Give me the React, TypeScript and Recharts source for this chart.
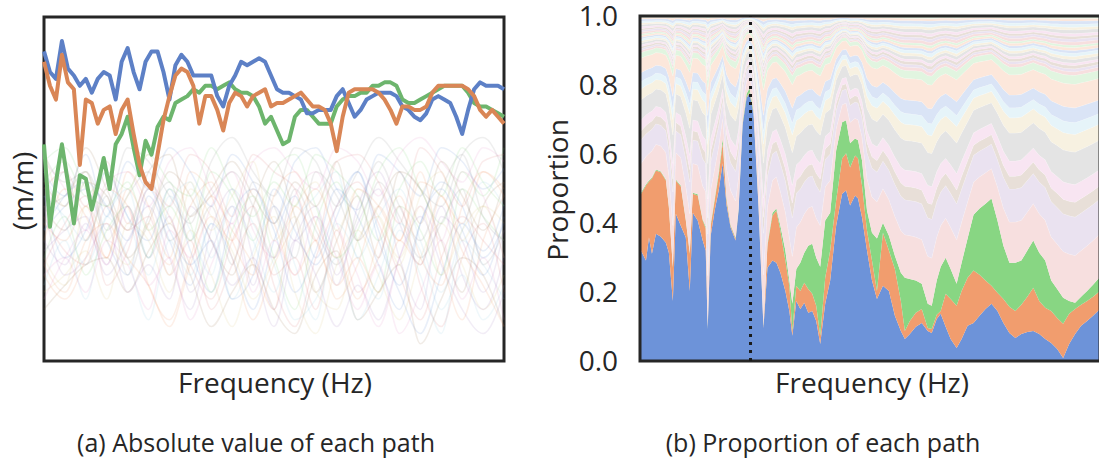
import {
  LineChart,
  Line,
  AreaChart,
  Area,
  XAxis,
  YAxis,
  ReferenceArea,
  ReferenceLine,
} from "recharts";

const FONT = '"Open Sans", "Noto Sans", sans-serif';
const INK = "#262626";

// ---- (a) absolute value of each path ----
// frequency bins (arbitrary units, no tick labels in the figure)
const binsA = Array.from({ length: 78 }, (_, i) => i * 6);
const binsFaint = Array.from({ length: 23 }, (_, i) => i * 21);

const blueA = [90, 84, 82, 93, 85, 83, 80, 82, 78, 82, 84, 83, 76, 87, 91, 84, 79, 87, 90, 90, 84, 76, 86, 89, 87, 83, 83, 83, 83, 77, 74, 80, 83, 87, 86, 87, 88, 87, 83, 79, 78, 78, 77, 76, 72, 72, 73, 73, 73, 77, 79, 75, 71, 73, 76, 77, 78, 78, 78, 77, 74, 73, 71, 70, 72, 76, 77, 76, 75, 71, 66, 73, 79, 81, 80, 80, 80, 79];
const orangeA = [87, 80, 76, 89, 81, 79, 57, 76, 75, 69, 73, 74, 66, 73, 76, 66, 57, 52, 50, 60, 70, 77, 83, 85, 84, 80, 69, 77, 77, 73, 67, 75, 78, 77, 74, 77, 78, 79, 74, 75, 75, 76, 77, 78, 76, 74, 74, 73, 69, 61, 71, 78, 79, 79, 79, 79, 78, 76, 73, 69, 74, 74, 73, 73, 74, 78, 80, 80, 80, 80, 80, 79, 77, 73, 71, 73, 71, 69];
const greenA = [63, 39, 52, 63, 52, 40, 54, 53, 44, 51, 59, 50, 63, 66, 71, 62, 54, 64, 60, 68, 71, 70, 75, 76, 77, 79, 78, 80, 80, 79, 80, 81, 79, 78, 78, 77, 74, 69, 71, 67, 63, 64, 71, 73, 73, 71, 69, 69, 69, 74, 76, 77, 77, 78, 78, 80, 80, 81, 81, 80, 76, 75, 75, 76, 77, 78, 79, 80, 80, 80, 80, 78, 75, 74, 74, 73, 72, 71];

// the remaining paths, drawn faintly
const faintPaths = [
  [55, 48, 60, 42, 58, 50, 62, 55, 45, 60, 52, 40, 58, 62, 50, 44, 60, 55, 48, 62, 58, 50, 56],
  [40, 35, 45, 30, 50, 38, 28, 45, 52, 35, 25, 48, 55, 40, 30, 50, 45, 35, 52, 48, 40, 55, 50],
  [30, 42, 25, 38, 45, 30, 50, 40, 20, 38, 48, 30, 15, 40, 52, 35, 20, 45, 38, 25, 50, 42, 35],
  [50, 55, 45, 58, 40, 52, 45, 60, 55, 42, 60, 55, 50, 35, 58, 60, 52, 40, 62, 55, 45, 58, 60],
  [35, 28, 40, 25, 35, 45, 30, 15, 38, 50, 30, 10, 35, 45, 25, 40, 50, 30, 15, 42, 35, 20, 38],
  [45, 38, 52, 48, 30, 40, 55, 48, 35, 25, 45, 58, 42, 20, 35, 48, 30, 55, 50, 35, 20, 45, 52],
  [25, 30, 20, 35, 28, 15, 38, 30, 45, 55, 38, 30, 48, 55, 40, 25, 10, 30, 45, 35, 55, 48, 30],
  [60, 52, 55, 45, 62, 58, 48, 40, 58, 65, 55, 48, 62, 58, 45, 55, 65, 58, 50, 45, 60, 65, 55],
  [20, 25, 32, 18, 40, 35, 20, 38, 25, 10, 30, 42, 20, 8, 28, 38, 25, 12, 30, 40, 28, 15, 25],
  [48, 42, 35, 50, 42, 25, 45, 52, 30, 45, 35, 20, 40, 48, 55, 30, 42, 50, 35, 20, 38, 52, 45],
  [38, 45, 50, 35, 25, 48, 35, 22, 40, 30, 15, 35, 48, 30, 45, 55, 38, 22, 40, 52, 45, 30, 40],
  [28, 20, 35, 40, 30, 22, 10, 28, 42, 35, 50, 40, 25, 35, 18, 28, 45, 35, 55, 30, 12, 35, 48],
  [52, 58, 48, 55, 50, 60, 52, 48, 62, 50, 42, 52, 45, 60, 55, 48, 35, 50, 58, 48, 62, 52, 45],
  [42, 32, 28, 45, 38, 42, 25, 35, 15, 28, 40, 25, 30, 15, 38, 20, 30, 45, 22, 10, 30, 40, 20],
  [32, 38, 42, 28, 45, 30, 42, 20, 32, 45, 22, 45, 35, 42, 22, 45, 55, 40, 28, 45, 25, 15, 30],
  [15, 22, 28, 30, 20, 32, 40, 25, 10, 20, 28, 15, 8, 25, 32, 12, 20, 28, 5, 18, 30, 25, 10],
  [58, 50, 38, 52, 55, 45, 58, 62, 50, 40, 58, 62, 55, 50, 62, 58, 48, 60, 65, 58, 52, 62, 58],
  [45, 48, 55, 38, 48, 55, 35, 42, 48, 55, 45, 30, 50, 38, 28, 42, 58, 45, 35, 50, 60, 42, 35],
  [62, 45, 55, 35, 48, 60, 40, 52, 38, 48, 58, 35, 45, 52, 38, 50, 42, 30, 48, 55, 35, 45, 40],
  [22, 35, 18, 42, 30, 12, 35, 25, 40, 18, 32, 45, 28, 12, 40, 30, 18, 38, 25, 8, 35, 28, 18],
  [48, 30, 38, 55, 42, 35, 50, 32, 20, 42, 50, 38, 20, 32, 50, 42, 28, 15, 40, 50, 38, 25, 42],
  [35, 50, 42, 30, 55, 45, 30, 55, 48, 30, 12, 28, 40, 50, 35, 18, 35, 48, 30, 22, 45, 55, 48],
  [58, 62, 50, 45, 52, 38, 45, 35, 55, 48, 35, 55, 60, 45, 30, 38, 55, 62, 50, 40, 55, 48, 62],
  [28, 40, 48, 22, 32, 50, 42, 28, 18, 35, 45, 22, 10, 30, 45, 52, 40, 25, 12, 30, 42, 35, 28],
  [45, 25, 30, 40, 20, 28, 18, 45, 35, 22, 30, 15, 35, 25, 10, 22, 12, 30, 42, 28, 15, 8, 20],
  [52, 45, 62, 50, 38, 55, 60, 42, 50, 58, 48, 40, 52, 45, 58, 35, 45, 55, 40, 58, 48, 38, 52],
  [18, 30, 38, 28, 45, 22, 30, 12, 28, 40, 20, 35, 25, 42, 30, 15, 28, 8, 20, 35, 18, 30, 12],
  [40, 55, 35, 48, 25, 42, 52, 35, 45, 28, 52, 45, 30, 55, 48, 35, 52, 42, 30, 40, 50, 28, 38],
  [30, 22, 45, 35, 28, 40, 25, 50, 42, 32, 18, 30, 42, 20, 15, 35, 42, 28, 45, 25, 38, 45, 30],
  [55, 40, 28, 42, 50, 30, 48, 38, 25, 50, 40, 28, 12, 18, 30, 12, 25, 40, 32, 15, 25, 12, 22],
  [38, 48, 52, 45, 35, 50, 38, 28, 35, 18, 25, 50, 38, 28, 42, 55, 35, 20, 8, 25, 40, 32, 45],
  [25, 18, 30, 50, 45, 22, 12, 30, 48, 38, 28, 15, 45, 35, 22, 30, 20, 35, 28, 48, 32, 22, 10],
];

const muted = ["#4878D0", "#EE854A", "#6ACC64", "#D65F5F", "#956CB4", "#8C613C", "#DC7EC0", "#797979", "#D5BB67", "#82C6E2"];

// ---- (b) proportion of each path ----
const binsB = [0, 6, 9, 12, 16, 21, 26, 29, 33, 36, 41, 46, 50, 53, 58, 63, 66, 68, 71, 75, 79, 83, 87, 91, 96, 99, 103, 107, 110, 114, 119, 124, 128, 133, 137, 141, 146, 150, 153, 157, 161, 165, 169, 173, 177, 181, 186, 191, 197, 203, 207, 211, 216, 219, 223, 228, 233, 238, 244, 250, 256, 262, 266, 271, 277, 283, 289, 293, 298, 302, 307, 312, 318, 323, 329, 335, 341, 347, 353, 359, 365, 371, 377, 383, 389, 395, 401, 407, 413, 419, 425, 431, 437, 443, 449, 455, 462];
const blueB = [0.326, 0.291, 0.358, 0.311, 0.369, 0.36, 0.343, 0.314, 0.174, 0.427, 0.392, 0.358, 0.203, 0.43, 0.407, 0.349, 0.32, 0.093, 0.363, 0.436, 0.494, 0.573, 0.451, 0.387, 0.349, 0.436, 0.683, 0.762, 0.776, 0.718, 0.451, 0.096, 0.27, 0.291, 0.285, 0.256, 0.203, 0.145, 0.073, 0.174, 0.151, 0.169, 0.14, 0.145, 0.116, 0.049, 0.166, 0.233, 0.392, 0.485, 0.494, 0.451, 0.48, 0.471, 0.416, 0.32, 0.233, 0.18, 0.218, 0.203, 0.131, 0.087, 0.064, 0.078, 0.099, 0.11, 0.087, 0.081, 0.122, 0.137, 0.099, 0.064, 0.038, 0.064, 0.102, 0.11, 0.131, 0.151, 0.166, 0.145, 0.11, 0.081, 0.067, 0.078, 0.084, 0.087, 0.078, 0.064, 0.052, 0.035, 0.009, 0.049, 0.078, 0.102, 0.116, 0.131, 0.151];
const orangeB = [0.154, 0.218, 0.162, 0.218, 0.183, 0.187, 0.18, 0.131, 0.096, 0.096, 0.114, 0.049, 0.108, 0.055, 0.073, 0.058, 0.064, 0.003, 0.029, 0.029, 0.044, 0.058, 0.014, 0.005, 0.006, 0.003, 0.003, 0.003, 0.003, 0.003, 0.003, 0.003, 0.064, 0.131, 0.151, 0.122, 0.088, 0.073, 0.014, 0.044, 0.052, 0.058, 0.069, 0.05, 0.044, 0.024, 0.075, 0.087, 0.073, 0.102, 0.108, 0.11, 0.116, 0.116, 0.093, 0.058, 0.058, 0.023, 0.154, 0.117, 0.136, 0.087, 0.023, 0.038, 0.041, 0.041, 0.009, 0.012, 0.012, 0.008, 0.096, 0.116, 0.122, 0.139, 0.139, 0.152, 0.119, 0.082, 0.052, 0.053, 0.07, 0.076, 0.078, 0.085, 0.102, 0.125, 0.096, 0.09, 0.093, 0.09, 0.099, 0.088, 0.073, 0.061, 0.058, 0.055, 0.052];
const greenB = [0.003, 0.003, 0.003, 0.003, 0.003, 0.002, 0.003, 0.003, 0.003, 0.003, 0.003, 0.003, 0.003, 0.003, 0.003, 0.003, 0.006, 0.003, 0.006, 0.006, 0.009, 0.014, 0.006, 0.003, 0.003, 0.003, 0.006, 0.009, 0.012, 0.006, 0.003, 0.003, 0.006, 0.008, 0.006, 0.014, 0.029, 0.015, 0.079, 0.049, 0.082, 0.087, 0.125, 0.145, 0.139, 0.2, 0.166, 0.11, 0.145, 0.105, 0.096, 0.07, 0.049, 0.053, 0.072, 0.058, 0.081, 0.152, 0.029, 0.043, 0.038, 0.082, 0.154, 0.122, 0.093, 0.073, 0.07, 0.067, 0.099, 0.128, 0.104, 0.087, 0.064, 0.082, 0.114, 0.162, 0.192, 0.223, 0.253, 0.209, 0.154, 0.128, 0.14, 0.128, 0.134, 0.137, 0.14, 0.137, 0.088, 0.084, 0.075, 0.037, 0.018, 0.023, 0.029, 0.035, 0.041];

// share of the remaining proportion taken by each of the other paths
const restShares = [0.16, 0.13, 0.05, 0.06, 0.11, 0.06, 0.04, 0.05, 0.08, 0.03, 0.012, 0.01, 0.011, 0.009, 0.012, 0.01, 0.011, 0.009, 0.01, 0.008, 0.011, 0.01, 0.009, 0.01, 0.012, 0.009, 0.01, 0.011, 0.009, 0.008];
const pastel = ["#F7DFDF", "#EAE2F0", "#E8DFD8", "#F8E5F2", "#E4E4E4", "#F7F1E1", "#E6F4F9", "#DAE4F6", "#FCE7DB", "#E1F5E0"];
const yTicksB = [0, 0.2, 0.4, 0.6, 0.8, 1.0];
const markerBin = 111;

const rowsA = binsA.map((f, i) => ({ f, blue: blueA[i], orange: orangeA[i], green: greenA[i] }));
const faintRows = faintPaths.map((vals) => binsFaint.map((f, i) => ({ f, v: vals[i] })));

const shareSum = restShares.reduce((a, b) => a + b, 0);
const rowsB = binsB.map((f, i) => {
  const rest = 1 - blueB[i] - orangeB[i] - greenB[i];
  const row: Record<string, number> = { f, blue: blueB[i], orange: orangeB[i], green: greenB[i] };
  restShares.forEach((w, k) => {
    row[`p${k}`] = (rest * w) / shareSum;
  });
  return row;
});

function AbsolutePanel() {
  return (
    <LineChart width={530} height={400} data={rowsA} margin={{ top: 17, right: 26, bottom: 39, left: 44 }}>
      <XAxis type="number" dataKey="f" domain={[0, 462]} hide />
      <YAxis type="number" domain={[0, 100]} allowDataOverflow hide />
      {faintRows.map((rows, k) => (
        <Line
          key={k}
          data={rows}
          dataKey="v"
          type="monotone"
          stroke={muted[k % muted.length]}
          strokeOpacity={0.12}
          strokeWidth={1.5}
          dot={false}
          activeDot={false}
          isAnimationActive={false}
        />
      ))}
      <Line dataKey="green" type="linear" stroke="#6db56d" strokeWidth={4} strokeLinejoin="round" dot={false} activeDot={false} isAnimationActive={false} />
      <Line dataKey="blue" type="linear" stroke="#5d80c6" strokeWidth={4} strokeLinejoin="round" dot={false} activeDot={false} isAnimationActive={false} />
      <Line dataKey="orange" type="linear" stroke="#d98656" strokeWidth={4} strokeLinejoin="round" dot={false} activeDot={false} isAnimationActive={false} />
      <ReferenceArea x1={0} x2={462} y1={0} y2={100} fill="none" stroke={INK} strokeWidth={3} />
    </LineChart>
  );
}

function ProportionPanel() {
  return (
    <AreaChart width={600} height={420} data={rowsB} margin={{ top: 36, right: 40, bottom: 39, left: 40 }}>
      <XAxis type="number" dataKey="f" domain={[0, 462]} hide />
      <YAxis
        type="number"
        domain={[0, 1]}
        allowDataOverflow
        ticks={yTicksB}
        tickFormatter={(v: number) => v.toFixed(1)}
        width={60}
        axisLine={false}
        tickLine={false}
        tickMargin={16}
        tick={{ fontSize: 28, fill: INK, fontFamily: FONT }}
      />
      <Area dataKey="blue" stackId="s" type="linear" fill="#6D93D9" fillOpacity={1} stroke="none" isAnimationActive={false} />
      <Area dataKey="orange" stackId="s" type="linear" fill="#F19D6E" fillOpacity={1} stroke="none" isAnimationActive={false} />
      <Area dataKey="green" stackId="s" type="linear" fill="#88D683" fillOpacity={1} stroke="none" isAnimationActive={false} />
      {restShares.map((_, k) => (
        <Area
          key={k}
          dataKey={`p${k}`}
          stackId="s"
          type="linear"
          fill={pastel[k % pastel.length]}
          fillOpacity={1}
          stroke="#ffffff"
          strokeOpacity={0.5}
          strokeWidth={0.6}
          isAnimationActive={false}
        />
      ))}
      <ReferenceLine x={markerBin} stroke="#1a1a1a" strokeWidth={3} strokeDasharray="3 5" />
      <ReferenceArea x1={0} x2={462} y1={0} y2={1} fill="none" stroke={INK} strokeWidth={3} />
    </AreaChart>
  );
}

function Text({ x, y, size, children }: { x: number; y: number; size: number; children: string }) {
  return (
    <div
      style={{
        position: "absolute",
        left: x,
        top: y,
        transform: "translateX(-50%)",
        fontSize: size,
        lineHeight: `${size}px`,
        whiteSpace: "nowrap",
      }}
    >
      {children}
    </div>
  );
}

function VText({ x, y, size, children }: { x: number; y: number; size: number; children: string }) {
  return (
    <div
      style={{
        position: "absolute",
        left: x,
        top: y,
        transform: "translate(-50%, -50%) rotate(-90deg)",
        fontSize: size,
        lineHeight: `${size}px`,
        whiteSpace: "nowrap",
      }}
    >
      {children}
    </div>
  );
}

export default function App() {
  return (
    <div
      style={{
        position: "absolute",
        left: 0,
        top: 0,
        width: 1099,
        height: 460,
        overflow: "hidden",
        background: "#fff",
        fontFamily: FONT,
        color: INK,
      }}
    >
      <div style={{ position: "absolute", left: 0, top: 0 }}>
        <AbsolutePanel />
      </div>
      <div style={{ position: "absolute", left: 540, top: -20 }}>
        <ProportionPanel />
      </div>
      <VText x={22} y={191} size={28}>(m/m)</VText>
      <VText x={557} y={190} size={28}>Proportion</VText>
      <Text x={275} y={368} size={28}>Frequency (Hz)</Text>
      <Text x={872} y={368} size={28}>Frequency (Hz)</Text>
      <Text x={256} y={430} size={25}>(a) Absolute value of each path</Text>
      <Text x={823} y={430} size={25}>(b) Proportion of each path</Text>
    </div>
  );
}
